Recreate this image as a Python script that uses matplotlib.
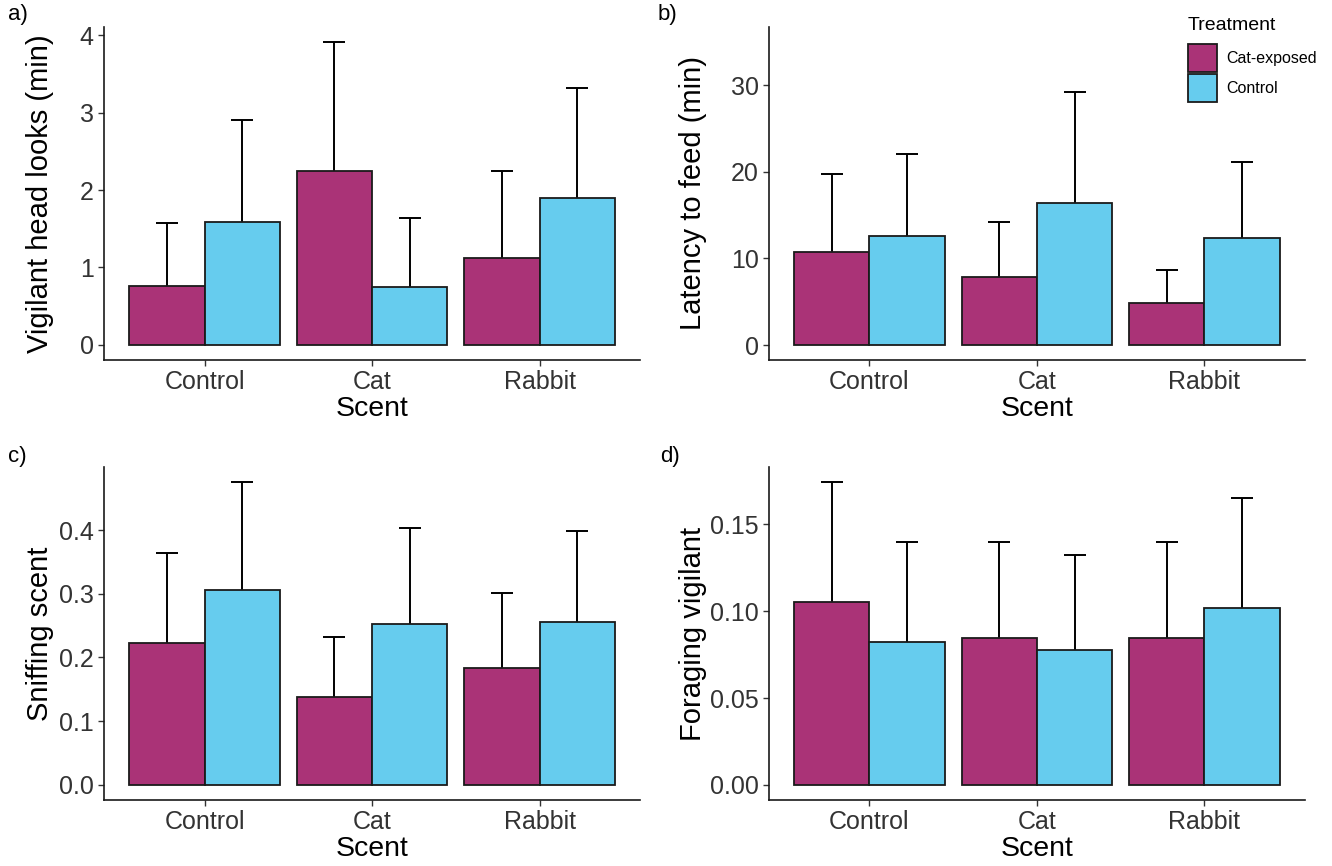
import matplotlib
matplotlib.use("Agg")
import matplotlib.pyplot as plt
from matplotlib.patches import Patch
import numpy as np

plt.rcParams["font.family"] = ["Liberation Sans", "DejaVu Sans"]

scents = ["Control", "Cat", "Rabbit"]
treatments = ["Cat-exposed", "Control"]
colors = ["#AA3377", "#66CCEE"]

# Means and upper error-bar ends per panel, [Cat-exposed, Control] x scent
vig_mean = [[0.76, 2.25, 1.12], [1.59, 0.75, 1.90]]
vig_upper = [[1.57, 3.91, 2.25], [2.90, 1.64, 3.32]]

lat_mean = [[10.7, 7.9, 4.9], [12.6, 16.4, 12.3]]
lat_upper = [[19.7, 14.2, 8.6], [22.0, 29.2, 21.1]]

sniff_mean = [[0.223, 0.138, 0.184], [0.306, 0.252, 0.256]]
sniff_upper = [[0.364, 0.232, 0.301], [0.475, 0.404, 0.399]]

forage_mean = [[0.1055, 0.0845, 0.0845], [0.0825, 0.0775, 0.1020]]
forage_upper = [[0.1745, 0.1398, 0.1398], [0.1397, 0.1325, 0.1653]]

panels = [
    ("a)", "Vigilant head looks (min)", vig_mean, vig_upper, [0, 1, 2, 3, 4], ["0", "1", "2", "3", "4"], (-0.196, 4.106)),
    ("b)", "Latency to feed (min)", lat_mean, lat_upper, [0, 10, 20, 30], ["0", "10", "20", "30"], (-1.73, 36.7)),
    ("c)", "Sniffing scent", sniff_mean, sniff_upper, [0, 0.1, 0.2, 0.3, 0.4], ["0.0", "0.1", "0.2", "0.3", "0.4"], (-0.0237, 0.499)),
    ("d)", "Foraging vigilant", forage_mean, forage_upper, [0, 0.05, 0.10, 0.15], ["0.00", "0.05", "0.10", "0.15"], (-0.0087, 0.1831)),
]

W, H = 1332, 866
fig = plt.figure(figsize=(W / 100, H / 100), dpi=100)

# axes boxes in pixels: left, right, top, bottom
boxes = [
    (104, 640, 27, 360),
    (769, 1305, 27, 360),
    (104, 640, 467, 800),
    (769, 1305, 467, 800),
]
label_pos = [(8, 4), (658, 4), (8, 446), (660, 446)]
ylabel_x = [-0.093, -0.116, -0.093, -0.116]

bw = 0.45
cap = 0.065
x = np.arange(1, len(scents) + 1)

for (tag, ylabel, means, uppers, yt, ytl, ylim), (l, r, t, b), (lx, ly), ylx in zip(panels, boxes, label_pos, ylabel_x):
    ax = fig.add_axes([l / W, 1 - b / H, (r - l) / W, (b - t) / H])
    for i, (m, u) in enumerate(zip(means, uppers)):
        xs = x + (i - 0.5) * bw
        ax.vlines(xs, m, u, color="black", lw=1.4, zorder=1)
        ax.hlines(u, xs - cap, xs + cap, color="black", lw=1.4, zorder=1)
        ax.bar(xs, m, width=bw, color=colors[i], edgecolor="#1a1a1a", linewidth=1.3, zorder=2)
    ax.set_xlim(0.4, 3.6)
    ax.set_ylim(*ylim)
    ax.set_xticks(x)
    ax.set_xticklabels(scents)
    ax.set_yticks(yt)
    ax.set_yticklabels(ytl)
    ax.tick_params(axis="both", labelsize=18, labelcolor="#333333", color="#333333",
                   length=4.5, width=1.0, pad=3)
    ax.set_xlabel("Scent", fontsize=20.5, labelpad=1)
    ax.set_ylabel(ylabel, fontsize=21)
    ax.yaxis.set_label_coords(ylx, 0.5)
    for s in ["top", "right"]:
        ax.spines[s].set_visible(False)
    for s in ["left", "bottom"]:
        ax.spines[s].set_linewidth(1.2)
        ax.spines[s].set_color("#1a1a1a")
    fig.text(lx / W, 1 - ly / H, tag, fontsize=16, va="top", ha="left")

# Legend: title as its own text, keys below it
fig.text(1188 / W, 1 - 17 / H, "Treatment", fontsize=14, va="top", ha="left")
handles = [Patch(facecolor=c, edgecolor="#1a1a1a", linewidth=1.3) for c in colors]
leg = fig.legend(handles, treatments, loc="upper left",
                 bbox_to_anchor=(1188 / W, 1 - 44 / H), frameon=False, fontsize=11.5,
                 handlelength=1.82, handleheight=2.33,
                 labelspacing=0.13, handletextpad=0.6, borderpad=0, borderaxespad=0)

fig.savefig("out.png", dpi=100)
